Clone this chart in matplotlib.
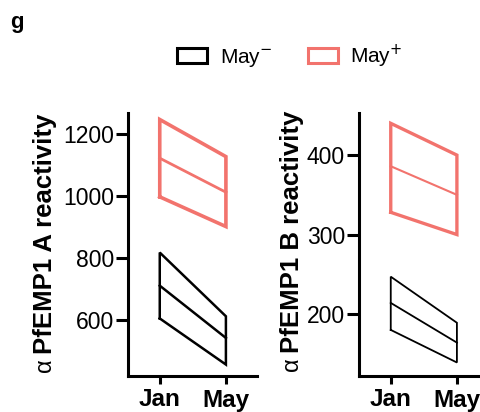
import matplotlib.pyplot as plt
from matplotlib.patches import Patch

plt.rcParams['font.family'] = ['Liberation Sans', 'DejaVu Sans']

# Werte (Jan, May) fuer jede Gruppe: Maximum, Mittelwert, Minimum
months = ['Jan', 'May']

a_neg_max = [818, 612]
a_neg_mean = [711, 542]
a_neg_min = [605, 456]
a_pos_max = [1248, 1128]
a_pos_mean = [1123, 1013]
a_pos_min = [998, 902]

b_neg_max = [247, 189]
b_neg_mean = [214, 164]
b_neg_min = [180, 139]
b_pos_max = [440, 400]
b_pos_mean = [386, 350]
b_pos_min = [328, 300]

red = '#F2736D'
black = '#000000'


def draw_band(ax, lo, mid, hi, color, lw_box, lw_mid):
    x = [0, 0, 1, 1, 0]
    y = [lo[0], hi[0], hi[1], lo[1], lo[0]]
    ax.plot(x, y, color=color, lw=lw_box, solid_joinstyle='miter')
    ax.plot([0, 1], mid, color=color, lw=lw_mid)


def style_axis(ax, ylim, yticks):
    ax.set_xlim(-0.48, 1.47)
    ax.set_ylim(*ylim)
    ax.set_xticks([0, 1])
    ax.set_xticklabels(months, fontsize=17.5, fontweight='bold')
    ax.set_yticks(yticks)
    ax.tick_params(axis='y', labelsize=16.5, length=9, width=2.2, pad=1)
    ax.tick_params(axis='x', length=6, width=2.2, pad=3)
    for s in ['top', 'right']:
        ax.spines[s].set_visible(False)
    for s in ['left', 'bottom']:
        ax.spines[s].set_linewidth(2.2)


fig = plt.figure(figsize=(4.81, 4.12), dpi=100)
W, H = 481, 412

ax1 = fig.add_axes([128 / W, 1 - 376 / H, 129 / W, 263 / H])
draw_band(ax1, a_pos_min, a_pos_mean, a_pos_max, red, 2.6, 2.0)
draw_band(ax1, a_neg_min, a_neg_mean, a_neg_max, black, 1.8, 1.8)
style_axis(ax1, (419, 1269), [600, 800, 1000, 1200])

ax2 = fig.add_axes([359 / W, 1 - 376 / H, 129 / W, 263 / H])
draw_band(ax2, b_pos_min, b_pos_mean, b_pos_max, red, 2.4, 1.5)
draw_band(ax2, b_neg_min, b_neg_mean, b_neg_max, black, 1.3, 1.3)
style_axis(ax2, (122, 453), [200, 300, 400])

# y-Achsenbeschriftung: alpha normal, Rest fett
for xc, ybot, txt in [(45, 354, 'PfEMP1 A reactivity'), (292, 353, 'PfEMP1 B reactivity')]:
    fig.text(xc / W, 1 - ybot / H, txt, rotation=90, ha='center', va='bottom',
             fontsize=18.5, fontweight='bold')
    fig.text(xc / W, 1 - (ybot + 4) / H, 'α', rotation=90, ha='center', va='top',
             fontsize=17)

fig.text(10 / W, 1 - 12 / H, 'g', ha='left', va='top', fontsize=16, fontweight='bold')

handles = [Patch(facecolor='none', edgecolor=black, lw=2.2),
           Patch(facecolor='none', edgecolor=red, lw=2.2)]
fig.legend(handles, ['May$^{-}$', 'May$^{+}$'], loc='center', ncol=2,
           bbox_to_anchor=(290 / W, 1 - 56 / H), frameon=False, fontsize=15,
           handlelength=1.45, handleheight=0.75, handletextpad=0.6, columnspacing=1.7)

fig.savefig('out.png', dpi=100)
